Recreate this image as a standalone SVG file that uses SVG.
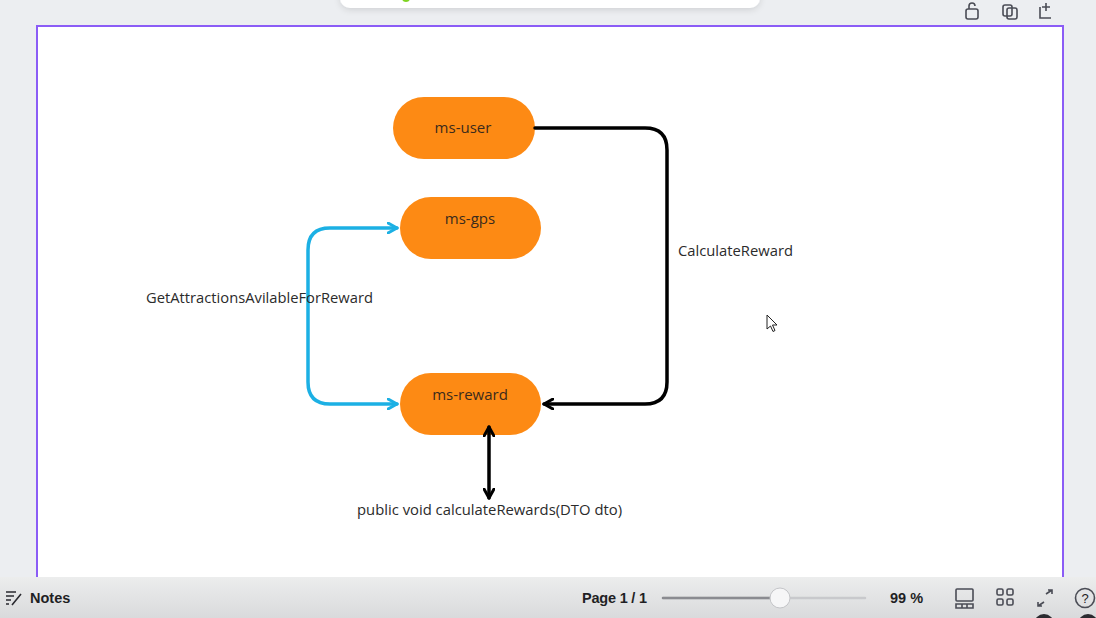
<svg xmlns="http://www.w3.org/2000/svg" width="1096" height="618" viewBox="0 0 1096 618">
<defs>
<style>
.node rect{fill:#fd8a14}
.node text{font-family:"Open Sans","Noto Sans",sans-serif;font-size:15px;fill:#3b2a1c;text-anchor:middle}
.lbl{font-family:"Open Sans","Noto Sans",sans-serif;font-size:14.5px;fill:#2b2b2b}
.ui{font-family:"Liberation Sans","Noto Sans",sans-serif;fill:#1f1f24}
.icon{fill:none;stroke:#4a4c55;stroke-width:1.6}
</style>
<marker id="ab" viewBox="0 0 12 12" refX="10" refY="6" markerWidth="12" markerHeight="12" markerUnits="userSpaceOnUse" orient="auto-start-reverse">
<path d="M1,1 L10,6 L1,11" fill="none" stroke="#000" stroke-width="3" stroke-linecap="round" stroke-linejoin="round"/>
</marker>
<marker id="abl" viewBox="0 0 12 12" refX="10" refY="6" markerWidth="12" markerHeight="12" markerUnits="userSpaceOnUse" orient="auto-start-reverse">
<path d="M1,1 L10,6 L1,11" fill="none" stroke="#1cb0e4" stroke-width="3" stroke-linecap="round" stroke-linejoin="round"/>
</marker>
<linearGradient id="bar" x1="0" y1="0" x2="0" y2="1">
<stop offset="0" stop-color="#eceded"/>
<stop offset="1" stop-color="#d9dadc"/>
</linearGradient>
<filter id="sh" x="-10%" y="-50%" width="120%" height="200%">
<feDropShadow dx="0" dy="2" stdDeviation="3" flood-color="#000" flood-opacity="0.12"/>
</filter>
</defs>
<rect x="0" y="0" width="1096" height="618" fill="#eceef1"/>
<rect x="340" y="-20" width="420" height="28" rx="10" fill="#fff" filter="url(#sh)"/>
<circle cx="406" cy="-2" r="4" fill="#7ed321"/>
<g id="topicons">
<rect x="966" y="9" width="12" height="10" rx="2" class="icon"/>
<path d="M969,9 V6 a3,3 0 0 1 6,0" class="icon"/>
<rect x="1003" y="5" width="9" height="11" rx="2" class="icon"/>
<rect x="1007" y="8" width="10" height="11" rx="2" class="icon" fill="#eceef1"/>
<path d="M1040,7 V18 H1051 M1046,3 V11 M1042,7 H1050" class="icon"/>
</g>
<rect x="37" y="26" width="1026" height="560" fill="#fff" stroke="#8b5cf6" stroke-width="2"/>
<g id="ms-user" class="node"><rect x="393" y="97" width="142" height="62" rx="31"/><text x="463" y="133">ms-user</text></g>
<g id="ms-gps" class="node"><rect x="400" y="197" width="141" height="62" rx="31"/><text x="470" y="224">ms-gps</text></g>
<g id="ms-reward" class="node"><rect x="400" y="373" width="141" height="62" rx="31"/><text x="470" y="400">ms-reward</text></g>
<g id="connectors" fill="none" stroke-width="3.5" stroke-linecap="round" stroke-linejoin="round">
<path d="M535,128 H645 Q667,128 667,150 V382 Q667,404 645,404 H544" stroke="#000" marker-end="url(#ab)"/>
<path d="M397,228 H330 Q308,228 308,250 V382 Q308,404 330,404 H397" stroke="#1cb0e4" marker-start="url(#abl)" marker-end="url(#abl)"/>
<path d="M489,427 V498" stroke="#000" marker-start="url(#ab)" marker-end="url(#ab)"/>
</g>
<g id="labels">
<text class="lbl" x="146" y="303" textLength="227" lengthAdjust="spacingAndGlyphs">GetAttractionsAvilableForReward</text>
<text class="lbl" x="678" y="256" textLength="115" lengthAdjust="spacingAndGlyphs">CalculateReward</text>
<text class="lbl" x="357" y="515" textLength="265" lengthAdjust="spacingAndGlyphs">public void calculateRewards(DTO dto)</text>
</g>
<path d="M767,315 V329 L770.5,326 L773,331.5 L775,330.5 L772.5,325 L777,325 Z" fill="#fff" stroke="#222" stroke-width="1"/>
<g id="bottombar">
<rect x="0" y="577" width="1096" height="41" fill="url(#bar)"/>
<path d="M6,592 H16 M6,596 H14 M6,600 H11 M6,604 H9 M12,605 L21,594" stroke="#2a2a30" stroke-width="1.6" fill="none"/>
<text class="ui" x="30" y="603" font-size="14.5" font-weight="bold">Notes</text>
<text class="ui" x="582" y="603" font-size="14.5" font-weight="bold" textLength="65">Page 1 / 1</text>
<line x1="663" y1="598" x2="865" y2="598" stroke="#c8c9cc" stroke-width="2.5" stroke-linecap="round"/>
<line x1="663" y1="598" x2="775" y2="598" stroke="#8a8b90" stroke-width="2.5" stroke-linecap="round"/>
<circle cx="780" cy="598" r="10" fill="#f6f6f7" stroke="#c4c5c8" stroke-width="1"/>
<text class="ui" x="890" y="603" font-size="14.5" font-weight="bold">99 %</text>
<rect x="956" y="589" width="17" height="12" rx="1" class="icon" stroke="#2a2a30"/>
<path d="M956,604 H973 V608 H956 Z M962,604 V608 M967,604 V608" class="icon" stroke="#2a2a30"/>
<rect x="997" y="589" width="6" height="6" rx="1.5" class="icon" stroke="#2a2a30"/>
<rect x="1007" y="589" width="6" height="6" rx="1.5" class="icon" stroke="#2a2a30"/>
<rect x="997" y="599" width="6" height="6" rx="1.5" class="icon" stroke="#2a2a30"/>
<rect x="1007" y="599" width="6" height="6" rx="1.5" class="icon" stroke="#2a2a30"/>
<path d="M1046,594 L1052,590 M1048,590 H1052 V594 M1044,602 L1038,606 M1038,602 V606 H1042" class="icon" stroke="#2a2a30"/>
<circle cx="1085" cy="598" r="9.5" class="icon" stroke="#2a2a30"/>
<text class="ui" x="1085" y="603" font-size="13" text-anchor="middle">?</text>
<circle cx="1044" cy="624" r="10" fill="#2a2a30"/>
<circle cx="1088" cy="624" r="10" fill="#2a2a30"/>
</g>
</svg>
